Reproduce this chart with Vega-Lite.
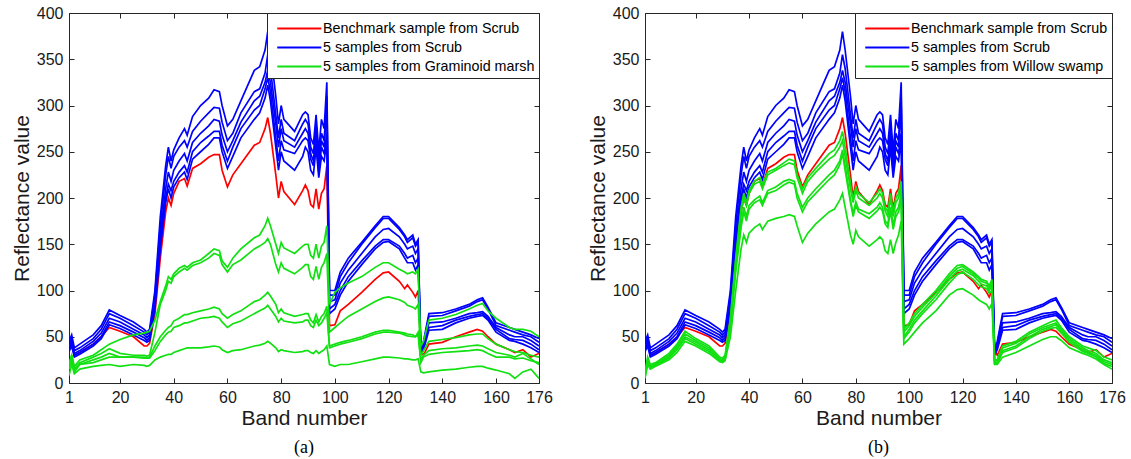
{
"$schema":"https://vega.github.io/schema/vega-lite/v6.json",
"background":"white",
"padding":{"left":10,"top":4,"right":15,"bottom":5},
"spacing":106,
"bounds":"flush",
"datasets":{
"m":[
{"s":"r","k":"Benchmark sample from Scrub","p":"both"},
{"s":"b1","k":"5 samples from Scrub","p":"both"},
{"s":"b2","k":"5 samples from Scrub","p":"both"},
{"s":"b3","k":"5 samples from Scrub","p":"both"},
{"s":"b4","k":"5 samples from Scrub","p":"both"},
{"s":"b5","k":"5 samples from Scrub","p":"both"},
{"s":"ga1","k":"5 samples from Graminoid marsh","p":"a"},
{"s":"ga2","k":"5 samples from Graminoid marsh","p":"a"},
{"s":"ga3","k":"5 samples from Graminoid marsh","p":"a"},
{"s":"ga4","k":"5 samples from Graminoid marsh","p":"a"},
{"s":"ga5","k":"5 samples from Graminoid marsh","p":"a"},
{"s":"gb1","k":"5 samples from Willow swamp","p":"b"},
{"s":"gb2","k":"5 samples from Willow swamp","p":"b"},
{"s":"gb3","k":"5 samples from Willow swamp","p":"b"},
{"s":"gb4","k":"5 samples from Willow swamp","p":"b"},
{"s":"gb5","k":"5 samples from Willow swamp","p":"b"}
],
"d":[
{"s":"r","b":1,"v":38},{"s":"r","b":2,"v":45},{"s":"r","b":3,"v":30},{"s":"r","b":5,"v":33},{"s":"r","b":10,"v":42},{"s":"r","b":13,"v":50},{"s":"r","b":16,"v":60},{"s":"r","b":20,"v":56},{"s":"r","b":25,"v":50},{"s":"r","b":29,"v":40},{"s":"r","b":30,"v":40},{"s":"r","b":31,"v":43},{"s":"r","b":33,"v":75},{"s":"r","b":35,"v":135},{"s":"r","b":37,"v":185},{"s":"r","b":38,"v":200},{"s":"r","b":39,"v":192},{"s":"r","b":40,"v":205},{"s":"r","b":42,"v":218},{"s":"r","b":44,"v":221},{"s":"r","b":45,"v":213},{"s":"r","b":47,"v":232},{"s":"r","b":50,"v":237},{"s":"r","b":53,"v":244},{"s":"r","b":55,"v":247},{"s":"r","b":57,"v":247},{"s":"r","b":58,"v":230},{"s":"r","b":60,"v":212},{"s":"r","b":62,"v":225},{"s":"r","b":65,"v":237},{"s":"r","b":70,"v":257},{"s":"r","b":72,"v":260},{"s":"r","b":74,"v":275},{"s":"r","b":75,"v":287},{"s":"r","b":76,"v":270},{"s":"r","b":78,"v":225},{"s":"r","b":79,"v":200},{"s":"r","b":80,"v":218},{"s":"r","b":81,"v":207},{"s":"r","b":85,"v":193},{"s":"r","b":88,"v":208},{"s":"r","b":89,"v":214},{"s":"r","b":90,"v":208},{"s":"r","b":91,"v":193},{"s":"r","b":92,"v":190},{"s":"r","b":93,"v":210},{"s":"r","b":94,"v":188},{"s":"r","b":95,"v":205},{"s":"r","b":96,"v":210},{"s":"r","b":97,"v":235},{"s":"r","b":98,"v":62},{"s":"r","b":100,"v":63},{"s":"r","b":102,"v":78},{"s":"r","b":105,"v":85},{"s":"r","b":110,"v":98},{"s":"r","b":115,"v":112},{"s":"r","b":118,"v":119},{"s":"r","b":120,"v":120},{"s":"r","b":124,"v":110},{"s":"r","b":126,"v":102},{"s":"r","b":127,"v":106},{"s":"r","b":129,"v":98},{"s":"r","b":130,"v":93},{"s":"r","b":131,"v":100},{"s":"r","b":132,"v":35},{"s":"r","b":133,"v":30},{"s":"r","b":135,"v":42},{"s":"r","b":140,"v":44},{"s":"r","b":145,"v":50},{"s":"r","b":150,"v":55},{"s":"r","b":153,"v":58},{"s":"r","b":155,"v":56},{"s":"r","b":157,"v":50},{"s":"r","b":160,"v":42},{"s":"r","b":165,"v":36},{"s":"r","b":167,"v":33},{"s":"r","b":170,"v":36},{"s":"r","b":173,"v":28},{"s":"r","b":176,"v":32},
{"s":"b1","b":1,"v":45},{"s":"b1","b":2,"v":52},{"s":"b1","b":3,"v":38},{"s":"b1","b":5,"v":42},{"s":"b1","b":10,"v":52},{"s":"b1","b":13,"v":62},{"s":"b1","b":16,"v":79},{"s":"b1","b":20,"v":73},{"s":"b1","b":25,"v":66},{"s":"b1","b":29,"v":58},{"s":"b1","b":30,"v":55},{"s":"b1","b":31,"v":58},{"s":"b1","b":33,"v":100},{"s":"b1","b":35,"v":180},{"s":"b1","b":37,"v":235},{"s":"b1","b":38,"v":255},{"s":"b1","b":39,"v":240},{"s":"b1","b":40,"v":252},{"s":"b1","b":42,"v":265},{"s":"b1","b":44,"v":275},{"s":"b1","b":45,"v":268},{"s":"b1","b":47,"v":288},{"s":"b1","b":50,"v":300},{"s":"b1","b":53,"v":308},{"s":"b1","b":55,"v":317},{"s":"b1","b":57,"v":315},{"s":"b1","b":58,"v":300},{"s":"b1","b":60,"v":278},{"s":"b1","b":62,"v":285},{"s":"b1","b":65,"v":305},{"s":"b1","b":70,"v":338},{"s":"b1","b":72,"v":342},{"s":"b1","b":74,"v":360},{"s":"b1","b":75,"v":380},{"s":"b1","b":76,"v":360},{"s":"b1","b":78,"v":310},{"s":"b1","b":79,"v":280},{"s":"b1","b":80,"v":300},{"s":"b1","b":81,"v":285},{"s":"b1","b":85,"v":272},{"s":"b1","b":88,"v":290},{"s":"b1","b":89,"v":293},{"s":"b1","b":90,"v":290},{"s":"b1","b":91,"v":265},{"s":"b1","b":92,"v":258},{"s":"b1","b":93,"v":290},{"s":"b1","b":94,"v":250},{"s":"b1","b":95,"v":285},{"s":"b1","b":96,"v":275},{"s":"b1","b":97,"v":325},{"s":"b1","b":98,"v":100},{"s":"b1","b":100,"v":100},{"s":"b1","b":102,"v":120},{"s":"b1","b":105,"v":135},{"s":"b1","b":110,"v":152},{"s":"b1","b":115,"v":170},{"s":"b1","b":118,"v":180},{"s":"b1","b":120,"v":180},{"s":"b1","b":124,"v":168},{"s":"b1","b":126,"v":160},{"s":"b1","b":127,"v":155},{"s":"b1","b":129,"v":160},{"s":"b1","b":130,"v":150},{"s":"b1","b":131,"v":155},{"s":"b1","b":132,"v":35},{"s":"b1","b":133,"v":45},{"s":"b1","b":135,"v":75},{"s":"b1","b":140,"v":76},{"s":"b1","b":145,"v":80},{"s":"b1","b":150,"v":85},{"s":"b1","b":153,"v":90},{"s":"b1","b":155,"v":92},{"s":"b1","b":157,"v":82},{"s":"b1","b":160,"v":65},{"s":"b1","b":165,"v":60},{"s":"b1","b":167,"v":58},{"s":"b1","b":170,"v":55},{"s":"b1","b":173,"v":52},{"s":"b1","b":176,"v":48},
{"s":"b2","b":1,"v":42},{"s":"b2","b":2,"v":48},{"s":"b2","b":3,"v":35},{"s":"b2","b":5,"v":38},{"s":"b2","b":10,"v":48},{"s":"b2","b":13,"v":58},{"s":"b2","b":16,"v":75},{"s":"b2","b":20,"v":70},{"s":"b2","b":25,"v":62},{"s":"b2","b":29,"v":55},{"s":"b2","b":30,"v":52},{"s":"b2","b":31,"v":55},{"s":"b2","b":33,"v":95},{"s":"b2","b":35,"v":170},{"s":"b2","b":37,"v":225},{"s":"b2","b":38,"v":245},{"s":"b2","b":39,"v":232},{"s":"b2","b":40,"v":245},{"s":"b2","b":42,"v":255},{"s":"b2","b":44,"v":262},{"s":"b2","b":45,"v":255},{"s":"b2","b":47,"v":272},{"s":"b2","b":50,"v":283},{"s":"b2","b":53,"v":292},{"s":"b2","b":55,"v":298},{"s":"b2","b":57,"v":297},{"s":"b2","b":58,"v":282},{"s":"b2","b":60,"v":262},{"s":"b2","b":62,"v":270},{"s":"b2","b":65,"v":292},{"s":"b2","b":70,"v":315},{"s":"b2","b":72,"v":318},{"s":"b2","b":74,"v":335},{"s":"b2","b":75,"v":355},{"s":"b2","b":76,"v":340},{"s":"b2","b":78,"v":290},{"s":"b2","b":79,"v":265},{"s":"b2","b":80,"v":285},{"s":"b2","b":81,"v":270},{"s":"b2","b":85,"v":262},{"s":"b2","b":88,"v":280},{"s":"b2","b":89,"v":285},{"s":"b2","b":90,"v":280},{"s":"b2","b":91,"v":255},{"s":"b2","b":92,"v":248},{"s":"b2","b":93,"v":280},{"s":"b2","b":94,"v":240},{"s":"b2","b":95,"v":270},{"s":"b2","b":96,"v":262},{"s":"b2","b":97,"v":310},{"s":"b2","b":98,"v":95},{"s":"b2","b":100,"v":95},{"s":"b2","b":102,"v":115},{"s":"b2","b":105,"v":130},{"s":"b2","b":110,"v":150},{"s":"b2","b":115,"v":168},{"s":"b2","b":118,"v":178},{"s":"b2","b":120,"v":178},{"s":"b2","b":124,"v":166},{"s":"b2","b":126,"v":158},{"s":"b2","b":127,"v":152},{"s":"b2","b":129,"v":157},{"s":"b2","b":130,"v":148},{"s":"b2","b":131,"v":152},{"s":"b2","b":132,"v":33},{"s":"b2","b":133,"v":42},{"s":"b2","b":135,"v":72},{"s":"b2","b":140,"v":73},{"s":"b2","b":145,"v":78},{"s":"b2","b":150,"v":83},{"s":"b2","b":153,"v":88},{"s":"b2","b":155,"v":90},{"s":"b2","b":157,"v":80},{"s":"b2","b":160,"v":62},{"s":"b2","b":165,"v":57},{"s":"b2","b":167,"v":55},{"s":"b2","b":170,"v":52},{"s":"b2","b":173,"v":50},{"s":"b2","b":176,"v":44},
{"s":"b3","b":1,"v":38},{"s":"b3","b":2,"v":45},{"s":"b3","b":3,"v":32},{"s":"b3","b":5,"v":35},{"s":"b3","b":10,"v":45},{"s":"b3","b":13,"v":54},{"s":"b3","b":16,"v":70},{"s":"b3","b":20,"v":66},{"s":"b3","b":25,"v":58},{"s":"b3","b":29,"v":52},{"s":"b3","b":30,"v":49},{"s":"b3","b":31,"v":52},{"s":"b3","b":33,"v":90},{"s":"b3","b":35,"v":160},{"s":"b3","b":37,"v":210},{"s":"b3","b":38,"v":228},{"s":"b3","b":39,"v":218},{"s":"b3","b":40,"v":230},{"s":"b3","b":42,"v":240},{"s":"b3","b":44,"v":248},{"s":"b3","b":45,"v":240},{"s":"b3","b":47,"v":260},{"s":"b3","b":50,"v":270},{"s":"b3","b":53,"v":278},{"s":"b3","b":55,"v":285},{"s":"b3","b":57,"v":283},{"s":"b3","b":58,"v":268},{"s":"b3","b":60,"v":250},{"s":"b3","b":62,"v":262},{"s":"b3","b":65,"v":282},{"s":"b3","b":70,"v":305},{"s":"b3","b":72,"v":310},{"s":"b3","b":74,"v":325},{"s":"b3","b":75,"v":338},{"s":"b3","b":76,"v":325},{"s":"b3","b":78,"v":280},{"s":"b3","b":79,"v":255},{"s":"b3","b":80,"v":275},{"s":"b3","b":81,"v":262},{"s":"b3","b":85,"v":255},{"s":"b3","b":88,"v":270},{"s":"b3","b":89,"v":275},{"s":"b3","b":90,"v":270},{"s":"b3","b":91,"v":248},{"s":"b3","b":92,"v":240},{"s":"b3","b":93,"v":270},{"s":"b3","b":94,"v":232},{"s":"b3","b":95,"v":262},{"s":"b3","b":96,"v":255},{"s":"b3","b":97,"v":300},{"s":"b3","b":98,"v":88},{"s":"b3","b":100,"v":90},{"s":"b3","b":102,"v":108},{"s":"b3","b":105,"v":122},{"s":"b3","b":110,"v":140},{"s":"b3","b":115,"v":158},{"s":"b3","b":118,"v":166},{"s":"b3","b":120,"v":167},{"s":"b3","b":124,"v":158},{"s":"b3","b":126,"v":150},{"s":"b3","b":127,"v":145},{"s":"b3","b":129,"v":148},{"s":"b3","b":130,"v":140},{"s":"b3","b":131,"v":145},{"s":"b3","b":132,"v":32},{"s":"b3","b":133,"v":40},{"s":"b3","b":135,"v":65},{"s":"b3","b":140,"v":66},{"s":"b3","b":145,"v":70},{"s":"b3","b":150,"v":75},{"s":"b3","b":153,"v":76},{"s":"b3","b":155,"v":77},{"s":"b3","b":157,"v":72},{"s":"b3","b":160,"v":60},{"s":"b3","b":165,"v":52},{"s":"b3","b":167,"v":50},{"s":"b3","b":170,"v":50},{"s":"b3","b":173,"v":46},{"s":"b3","b":176,"v":40},
{"s":"b4","b":1,"v":36},{"s":"b4","b":2,"v":43},{"s":"b4","b":3,"v":30},{"s":"b4","b":5,"v":33},{"s":"b4","b":10,"v":42},{"s":"b4","b":13,"v":50},{"s":"b4","b":16,"v":66},{"s":"b4","b":20,"v":62},{"s":"b4","b":25,"v":55},{"s":"b4","b":29,"v":49},{"s":"b4","b":30,"v":46},{"s":"b4","b":31,"v":49},{"s":"b4","b":33,"v":85},{"s":"b4","b":35,"v":150},{"s":"b4","b":37,"v":200},{"s":"b4","b":38,"v":215},{"s":"b4","b":39,"v":208},{"s":"b4","b":40,"v":218},{"s":"b4","b":42,"v":228},{"s":"b4","b":44,"v":235},{"s":"b4","b":45,"v":228},{"s":"b4","b":47,"v":250},{"s":"b4","b":50,"v":260},{"s":"b4","b":53,"v":267},{"s":"b4","b":55,"v":272},{"s":"b4","b":57,"v":272},{"s":"b4","b":58,"v":257},{"s":"b4","b":60,"v":240},{"s":"b4","b":62,"v":255},{"s":"b4","b":65,"v":275},{"s":"b4","b":70,"v":295},{"s":"b4","b":72,"v":300},{"s":"b4","b":74,"v":318},{"s":"b4","b":75,"v":330},{"s":"b4","b":76,"v":315},{"s":"b4","b":78,"v":265},{"s":"b4","b":79,"v":240},{"s":"b4","b":80,"v":262},{"s":"b4","b":81,"v":252},{"s":"b4","b":85,"v":248},{"s":"b4","b":88,"v":262},{"s":"b4","b":89,"v":265},{"s":"b4","b":90,"v":262},{"s":"b4","b":91,"v":242},{"s":"b4","b":92,"v":235},{"s":"b4","b":93,"v":262},{"s":"b4","b":94,"v":228},{"s":"b4","b":95,"v":255},{"s":"b4","b":96,"v":248},{"s":"b4","b":97,"v":270},{"s":"b4","b":98,"v":80},{"s":"b4","b":100,"v":85},{"s":"b4","b":102,"v":100},{"s":"b4","b":105,"v":115},{"s":"b4","b":110,"v":132},{"s":"b4","b":115,"v":148},{"s":"b4","b":118,"v":155},{"s":"b4","b":120,"v":155},{"s":"b4","b":124,"v":148},{"s":"b4","b":126,"v":140},{"s":"b4","b":127,"v":135},{"s":"b4","b":129,"v":138},{"s":"b4","b":130,"v":130},{"s":"b4","b":131,"v":135},{"s":"b4","b":132,"v":31},{"s":"b4","b":133,"v":38},{"s":"b4","b":135,"v":60},{"s":"b4","b":140,"v":62},{"s":"b4","b":145,"v":68},{"s":"b4","b":150,"v":72},{"s":"b4","b":153,"v":74},{"s":"b4","b":155,"v":75},{"s":"b4","b":157,"v":70},{"s":"b4","b":160,"v":58},{"s":"b4","b":165,"v":48},{"s":"b4","b":167,"v":47},{"s":"b4","b":170,"v":46},{"s":"b4","b":173,"v":42},{"s":"b4","b":176,"v":36},
{"s":"b5","b":1,"v":34},{"s":"b5","b":2,"v":40},{"s":"b5","b":3,"v":28},{"s":"b5","b":5,"v":31},{"s":"b5","b":10,"v":40},{"s":"b5","b":13,"v":48},{"s":"b5","b":16,"v":63},{"s":"b5","b":20,"v":59},{"s":"b5","b":25,"v":52},{"s":"b5","b":29,"v":46},{"s":"b5","b":30,"v":44},{"s":"b5","b":31,"v":46},{"s":"b5","b":33,"v":80},{"s":"b5","b":35,"v":145},{"s":"b5","b":37,"v":195},{"s":"b5","b":38,"v":210},{"s":"b5","b":39,"v":200},{"s":"b5","b":40,"v":212},{"s":"b5","b":42,"v":222},{"s":"b5","b":44,"v":228},{"s":"b5","b":45,"v":220},{"s":"b5","b":47,"v":242},{"s":"b5","b":50,"v":250},{"s":"b5","b":53,"v":258},{"s":"b5","b":55,"v":265},{"s":"b5","b":57,"v":265},{"s":"b5","b":58,"v":250},{"s":"b5","b":60,"v":232},{"s":"b5","b":62,"v":245},{"s":"b5","b":65,"v":265},{"s":"b5","b":70,"v":285},{"s":"b5","b":72,"v":292},{"s":"b5","b":74,"v":308},{"s":"b5","b":75,"v":322},{"s":"b5","b":76,"v":305},{"s":"b5","b":78,"v":255},{"s":"b5","b":79,"v":230},{"s":"b5","b":80,"v":250},{"s":"b5","b":81,"v":240},{"s":"b5","b":85,"v":230},{"s":"b5","b":88,"v":245},{"s":"b5","b":89,"v":255},{"s":"b5","b":90,"v":250},{"s":"b5","b":91,"v":230},{"s":"b5","b":92,"v":225},{"s":"b5","b":93,"v":255},{"s":"b5","b":94,"v":222},{"s":"b5","b":95,"v":245},{"s":"b5","b":96,"v":240},{"s":"b5","b":97,"v":262},{"s":"b5","b":98,"v":75},{"s":"b5","b":100,"v":80},{"s":"b5","b":102,"v":95},{"s":"b5","b":105,"v":110},{"s":"b5","b":110,"v":128},{"s":"b5","b":115,"v":145},{"s":"b5","b":118,"v":152},{"s":"b5","b":120,"v":153},{"s":"b5","b":124,"v":145},{"s":"b5","b":126,"v":135},{"s":"b5","b":127,"v":130},{"s":"b5","b":129,"v":130},{"s":"b5","b":130,"v":122},{"s":"b5","b":131,"v":128},{"s":"b5","b":132,"v":30},{"s":"b5","b":133,"v":36},{"s":"b5","b":135,"v":57},{"s":"b5","b":140,"v":58},{"s":"b5","b":145,"v":65},{"s":"b5","b":150,"v":70},{"s":"b5","b":153,"v":72},{"s":"b5","b":155,"v":73},{"s":"b5","b":157,"v":68},{"s":"b5","b":160,"v":55},{"s":"b5","b":165,"v":46},{"s":"b5","b":167,"v":45},{"s":"b5","b":170,"v":42},{"s":"b5","b":173,"v":38},{"s":"b5","b":176,"v":33},
{"s":"ga1","b":1,"v":20},{"s":"ga1","b":2,"v":30},{"s":"ga1","b":3,"v":18},{"s":"ga1","b":5,"v":25},{"s":"ga1","b":10,"v":30},{"s":"ga1","b":13,"v":36},{"s":"ga1","b":16,"v":42},{"s":"ga1","b":20,"v":47},{"s":"ga1","b":25,"v":52},{"s":"ga1","b":29,"v":54},{"s":"ga1","b":30,"v":55},{"s":"ga1","b":31,"v":56},{"s":"ga1","b":33,"v":68},{"s":"ga1","b":35,"v":88},{"s":"ga1","b":37,"v":105},{"s":"ga1","b":38,"v":115},{"s":"ga1","b":39,"v":112},{"s":"ga1","b":40,"v":118},{"s":"ga1","b":42,"v":124},{"s":"ga1","b":44,"v":127},{"s":"ga1","b":45,"v":125},{"s":"ga1","b":47,"v":130},{"s":"ga1","b":50,"v":133},{"s":"ga1","b":53,"v":140},{"s":"ga1","b":55,"v":145},{"s":"ga1","b":57,"v":143},{"s":"ga1","b":58,"v":132},{"s":"ga1","b":60,"v":125},{"s":"ga1","b":62,"v":135},{"s":"ga1","b":65,"v":145},{"s":"ga1","b":70,"v":157},{"s":"ga1","b":72,"v":160},{"s":"ga1","b":74,"v":170},{"s":"ga1","b":75,"v":178},{"s":"ga1","b":76,"v":170},{"s":"ga1","b":78,"v":150},{"s":"ga1","b":79,"v":140},{"s":"ga1","b":80,"v":152},{"s":"ga1","b":81,"v":146},{"s":"ga1","b":85,"v":140},{"s":"ga1","b":88,"v":148},{"s":"ga1","b":89,"v":150},{"s":"ga1","b":90,"v":150},{"s":"ga1","b":91,"v":138},{"s":"ga1","b":92,"v":135},{"s":"ga1","b":93,"v":150},{"s":"ga1","b":94,"v":135},{"s":"ga1","b":95,"v":148},{"s":"ga1","b":96,"v":152},{"s":"ga1","b":97,"v":170},{"s":"ga1","b":98,"v":85},{"s":"ga1","b":100,"v":98},{"s":"ga1","b":102,"v":103},{"s":"ga1","b":105,"v":108},{"s":"ga1","b":110,"v":115},{"s":"ga1","b":115,"v":125},{"s":"ga1","b":118,"v":130},{"s":"ga1","b":120,"v":130},{"s":"ga1","b":124,"v":123},{"s":"ga1","b":126,"v":120},{"s":"ga1","b":127,"v":118},{"s":"ga1","b":129,"v":120},{"s":"ga1","b":130,"v":118},{"s":"ga1","b":131,"v":123},{"s":"ga1","b":132,"v":40},{"s":"ga1","b":133,"v":45},{"s":"ga1","b":135,"v":68},{"s":"ga1","b":140,"v":70},{"s":"ga1","b":145,"v":74},{"s":"ga1","b":150,"v":80},{"s":"ga1","b":153,"v":84},{"s":"ga1","b":155,"v":86},{"s":"ga1","b":157,"v":78},{"s":"ga1","b":160,"v":70},{"s":"ga1","b":165,"v":60},{"s":"ga1","b":167,"v":58},{"s":"ga1","b":170,"v":58},{"s":"ga1","b":173,"v":56},{"s":"ga1","b":176,"v":50},
{"s":"ga2","b":1,"v":20},{"s":"ga2","b":2,"v":30},{"s":"ga2","b":3,"v":15},{"s":"ga2","b":5,"v":22},{"s":"ga2","b":10,"v":28},{"s":"ga2","b":13,"v":32},{"s":"ga2","b":16,"v":37},{"s":"ga2","b":20,"v":32},{"s":"ga2","b":25,"v":30},{"s":"ga2","b":29,"v":30},{"s":"ga2","b":30,"v":29},{"s":"ga2","b":31,"v":30},{"s":"ga2","b":33,"v":55},{"s":"ga2","b":35,"v":85},{"s":"ga2","b":37,"v":100},{"s":"ga2","b":38,"v":110},{"s":"ga2","b":39,"v":108},{"s":"ga2","b":40,"v":115},{"s":"ga2","b":42,"v":120},{"s":"ga2","b":44,"v":124},{"s":"ga2","b":45,"v":122},{"s":"ga2","b":47,"v":127},{"s":"ga2","b":50,"v":130},{"s":"ga2","b":53,"v":135},{"s":"ga2","b":55,"v":140},{"s":"ga2","b":57,"v":138},{"s":"ga2","b":58,"v":128},{"s":"ga2","b":60,"v":120},{"s":"ga2","b":62,"v":128},{"s":"ga2","b":65,"v":133},{"s":"ga2","b":70,"v":145},{"s":"ga2","b":72,"v":148},{"s":"ga2","b":74,"v":152},{"s":"ga2","b":75,"v":156},{"s":"ga2","b":76,"v":150},{"s":"ga2","b":78,"v":128},{"s":"ga2","b":79,"v":120},{"s":"ga2","b":80,"v":130},{"s":"ga2","b":81,"v":124},{"s":"ga2","b":85,"v":118},{"s":"ga2","b":88,"v":125},{"s":"ga2","b":89,"v":128},{"s":"ga2","b":90,"v":128},{"s":"ga2","b":91,"v":115},{"s":"ga2","b":92,"v":112},{"s":"ga2","b":93,"v":126},{"s":"ga2","b":94,"v":112},{"s":"ga2","b":95,"v":125},{"s":"ga2","b":96,"v":130},{"s":"ga2","b":97,"v":140},{"s":"ga2","b":98,"v":55},{"s":"ga2","b":100,"v":60},{"s":"ga2","b":102,"v":65},{"s":"ga2","b":105,"v":72},{"s":"ga2","b":110,"v":80},{"s":"ga2","b":115,"v":88},{"s":"ga2","b":118,"v":92},{"s":"ga2","b":120,"v":93},{"s":"ga2","b":124,"v":90},{"s":"ga2","b":126,"v":87},{"s":"ga2","b":127,"v":84},{"s":"ga2","b":129,"v":82},{"s":"ga2","b":130,"v":80},{"s":"ga2","b":131,"v":85},{"s":"ga2","b":132,"v":30},{"s":"ga2","b":133,"v":35},{"s":"ga2","b":135,"v":45},{"s":"ga2","b":140,"v":47},{"s":"ga2","b":145,"v":49},{"s":"ga2","b":150,"v":52},{"s":"ga2","b":153,"v":53},{"s":"ga2","b":155,"v":53},{"s":"ga2","b":157,"v":48},{"s":"ga2","b":160,"v":42},{"s":"ga2","b":165,"v":36},{"s":"ga2","b":167,"v":34},{"s":"ga2","b":170,"v":33},{"s":"ga2","b":173,"v":30},{"s":"ga2","b":176,"v":28},
{"s":"ga3","b":1,"v":20},{"s":"ga3","b":2,"v":28},{"s":"ga3","b":3,"v":15},{"s":"ga3","b":5,"v":20},{"s":"ga3","b":10,"v":25},{"s":"ga3","b":13,"v":28},{"s":"ga3","b":16,"v":32},{"s":"ga3","b":20,"v":28},{"s":"ga3","b":25,"v":28},{"s":"ga3","b":29,"v":28},{"s":"ga3","b":30,"v":27},{"s":"ga3","b":31,"v":28},{"s":"ga3","b":33,"v":40},{"s":"ga3","b":35,"v":50},{"s":"ga3","b":37,"v":57},{"s":"ga3","b":38,"v":60},{"s":"ga3","b":39,"v":62},{"s":"ga3","b":40,"v":67},{"s":"ga3","b":42,"v":70},{"s":"ga3","b":44,"v":74},{"s":"ga3","b":45,"v":74},{"s":"ga3","b":47,"v":76},{"s":"ga3","b":50,"v":78},{"s":"ga3","b":53,"v":80},{"s":"ga3","b":55,"v":82},{"s":"ga3","b":57,"v":80},{"s":"ga3","b":58,"v":75},{"s":"ga3","b":60,"v":70},{"s":"ga3","b":62,"v":74},{"s":"ga3","b":65,"v":78},{"s":"ga3","b":70,"v":88},{"s":"ga3","b":72,"v":90},{"s":"ga3","b":74,"v":95},{"s":"ga3","b":75,"v":98},{"s":"ga3","b":76,"v":94},{"s":"ga3","b":78,"v":85},{"s":"ga3","b":79,"v":76},{"s":"ga3","b":80,"v":80},{"s":"ga3","b":81,"v":76},{"s":"ga3","b":85,"v":72},{"s":"ga3","b":88,"v":74},{"s":"ga3","b":89,"v":75},{"s":"ga3","b":90,"v":75},{"s":"ga3","b":91,"v":68},{"s":"ga3","b":92,"v":65},{"s":"ga3","b":93,"v":74},{"s":"ga3","b":94,"v":66},{"s":"ga3","b":95,"v":72},{"s":"ga3","b":96,"v":75},{"s":"ga3","b":97,"v":83},{"s":"ga3","b":98,"v":40},{"s":"ga3","b":100,"v":42},{"s":"ga3","b":102,"v":44},{"s":"ga3","b":105,"v":46},{"s":"ga3","b":110,"v":50},{"s":"ga3","b":115,"v":55},{"s":"ga3","b":118,"v":57},{"s":"ga3","b":120,"v":57},{"s":"ga3","b":124,"v":55},{"s":"ga3","b":126,"v":54},{"s":"ga3","b":127,"v":53},{"s":"ga3","b":129,"v":52},{"s":"ga3","b":130,"v":50},{"s":"ga3","b":131,"v":55},{"s":"ga3","b":132,"v":25},{"s":"ga3","b":133,"v":30},{"s":"ga3","b":135,"v":35},{"s":"ga3","b":140,"v":37},{"s":"ga3","b":145,"v":38},{"s":"ga3","b":150,"v":40},{"s":"ga3","b":153,"v":41},{"s":"ga3","b":155,"v":40},{"s":"ga3","b":157,"v":37},{"s":"ga3","b":160,"v":33},{"s":"ga3","b":165,"v":30},{"s":"ga3","b":167,"v":28},{"s":"ga3","b":170,"v":32},{"s":"ga3","b":173,"v":26},{"s":"ga3","b":176,"v":20},
{"s":"ga4","b":1,"v":15},{"s":"ga4","b":2,"v":25},{"s":"ga4","b":3,"v":12},{"s":"ga4","b":5,"v":20},{"s":"ga4","b":10,"v":22},{"s":"ga4","b":13,"v":25},{"s":"ga4","b":16,"v":28},{"s":"ga4","b":20,"v":28},{"s":"ga4","b":25,"v":28},{"s":"ga4","b":29,"v":27},{"s":"ga4","b":30,"v":27},{"s":"ga4","b":31,"v":27},{"s":"ga4","b":33,"v":35},{"s":"ga4","b":35,"v":45},{"s":"ga4","b":37,"v":52},{"s":"ga4","b":38,"v":55},{"s":"ga4","b":39,"v":56},{"s":"ga4","b":40,"v":60},{"s":"ga4","b":42,"v":62},{"s":"ga4","b":44,"v":65},{"s":"ga4","b":45,"v":65},{"s":"ga4","b":47,"v":67},{"s":"ga4","b":50,"v":70},{"s":"ga4","b":53,"v":71},{"s":"ga4","b":55,"v":72},{"s":"ga4","b":57,"v":70},{"s":"ga4","b":58,"v":66},{"s":"ga4","b":60,"v":60},{"s":"ga4","b":62,"v":64},{"s":"ga4","b":65,"v":67},{"s":"ga4","b":70,"v":75},{"s":"ga4","b":72,"v":78},{"s":"ga4","b":74,"v":81},{"s":"ga4","b":75,"v":84},{"s":"ga4","b":76,"v":80},{"s":"ga4","b":78,"v":72},{"s":"ga4","b":79,"v":66},{"s":"ga4","b":80,"v":70},{"s":"ga4","b":81,"v":67},{"s":"ga4","b":85,"v":65},{"s":"ga4","b":88,"v":66},{"s":"ga4","b":89,"v":68},{"s":"ga4","b":90,"v":68},{"s":"ga4","b":91,"v":62},{"s":"ga4","b":92,"v":60},{"s":"ga4","b":93,"v":68},{"s":"ga4","b":94,"v":62},{"s":"ga4","b":95,"v":65},{"s":"ga4","b":96,"v":70},{"s":"ga4","b":97,"v":76},{"s":"ga4","b":98,"v":38},{"s":"ga4","b":100,"v":40},{"s":"ga4","b":102,"v":42},{"s":"ga4","b":105,"v":44},{"s":"ga4","b":110,"v":48},{"s":"ga4","b":115,"v":53},{"s":"ga4","b":118,"v":55},{"s":"ga4","b":120,"v":55},{"s":"ga4","b":124,"v":54},{"s":"ga4","b":126,"v":52},{"s":"ga4","b":127,"v":51},{"s":"ga4","b":129,"v":50},{"s":"ga4","b":130,"v":50},{"s":"ga4","b":131,"v":52},{"s":"ga4","b":132,"v":22},{"s":"ga4","b":133,"v":28},{"s":"ga4","b":135,"v":31},{"s":"ga4","b":140,"v":33},{"s":"ga4","b":145,"v":34},{"s":"ga4","b":150,"v":35},{"s":"ga4","b":153,"v":36},{"s":"ga4","b":155,"v":35},{"s":"ga4","b":157,"v":32},{"s":"ga4","b":160,"v":28},{"s":"ga4","b":165,"v":28},{"s":"ga4","b":167,"v":26},{"s":"ga4","b":170,"v":27},{"s":"ga4","b":173,"v":24},{"s":"ga4","b":176,"v":22},
{"s":"ga5","b":1,"v":8},{"s":"ga5","b":2,"v":20},{"s":"ga5","b":3,"v":10},{"s":"ga5","b":5,"v":15},{"s":"ga5","b":10,"v":18},{"s":"ga5","b":13,"v":19},{"s":"ga5","b":16,"v":20},{"s":"ga5","b":20,"v":18},{"s":"ga5","b":25,"v":20},{"s":"ga5","b":29,"v":19},{"s":"ga5","b":30,"v":18},{"s":"ga5","b":31,"v":19},{"s":"ga5","b":33,"v":25},{"s":"ga5","b":35,"v":28},{"s":"ga5","b":37,"v":30},{"s":"ga5","b":38,"v":31},{"s":"ga5","b":39,"v":31},{"s":"ga5","b":40,"v":33},{"s":"ga5","b":42,"v":35},{"s":"ga5","b":44,"v":37},{"s":"ga5","b":45,"v":38},{"s":"ga5","b":47,"v":38},{"s":"ga5","b":50,"v":38},{"s":"ga5","b":53,"v":39},{"s":"ga5","b":55,"v":40},{"s":"ga5","b":57,"v":39},{"s":"ga5","b":58,"v":36},{"s":"ga5","b":60,"v":33},{"s":"ga5","b":62,"v":35},{"s":"ga5","b":65,"v":36},{"s":"ga5","b":70,"v":40},{"s":"ga5","b":72,"v":41},{"s":"ga5","b":74,"v":43},{"s":"ga5","b":75,"v":45},{"s":"ga5","b":76,"v":43},{"s":"ga5","b":78,"v":38},{"s":"ga5","b":79,"v":34},{"s":"ga5","b":80,"v":36},{"s":"ga5","b":81,"v":35},{"s":"ga5","b":85,"v":33},{"s":"ga5","b":88,"v":34},{"s":"ga5","b":89,"v":35},{"s":"ga5","b":90,"v":35},{"s":"ga5","b":91,"v":33},{"s":"ga5","b":92,"v":32},{"s":"ga5","b":93,"v":35},{"s":"ga5","b":94,"v":32},{"s":"ga5","b":95,"v":34},{"s":"ga5","b":96,"v":36},{"s":"ga5","b":97,"v":40},{"s":"ga5","b":98,"v":20},{"s":"ga5","b":100,"v":18},{"s":"ga5","b":102,"v":20},{"s":"ga5","b":105,"v":20},{"s":"ga5","b":110,"v":23},{"s":"ga5","b":115,"v":26},{"s":"ga5","b":118,"v":28},{"s":"ga5","b":120,"v":28},{"s":"ga5","b":124,"v":27},{"s":"ga5","b":126,"v":26},{"s":"ga5","b":127,"v":26},{"s":"ga5","b":129,"v":25},{"s":"ga5","b":130,"v":25},{"s":"ga5","b":131,"v":26},{"s":"ga5","b":132,"v":12},{"s":"ga5","b":133,"v":11},{"s":"ga5","b":135,"v":12},{"s":"ga5","b":140,"v":14},{"s":"ga5","b":145,"v":15},{"s":"ga5","b":150,"v":17},{"s":"ga5","b":153,"v":18},{"s":"ga5","b":155,"v":18},{"s":"ga5","b":157,"v":16},{"s":"ga5","b":160,"v":14},{"s":"ga5","b":165,"v":10},{"s":"ga5","b":167,"v":5},{"s":"ga5","b":170,"v":12},{"s":"ga5","b":173,"v":15},{"s":"ga5","b":176,"v":5},
{"s":"gb1","b":1,"v":12},{"s":"gb1","b":2,"v":28},{"s":"gb1","b":3,"v":20},{"s":"gb1","b":5,"v":22},{"s":"gb1","b":10,"v":32},{"s":"gb1","b":13,"v":42},{"s":"gb1","b":16,"v":56},{"s":"gb1","b":20,"v":48},{"s":"gb1","b":25,"v":40},{"s":"gb1","b":29,"v":28},{"s":"gb1","b":30,"v":27},{"s":"gb1","b":31,"v":30},{"s":"gb1","b":33,"v":70},{"s":"gb1","b":35,"v":135},{"s":"gb1","b":37,"v":190},{"s":"gb1","b":38,"v":205},{"s":"gb1","b":39,"v":195},{"s":"gb1","b":40,"v":208},{"s":"gb1","b":42,"v":218},{"s":"gb1","b":44,"v":222},{"s":"gb1","b":45,"v":215},{"s":"gb1","b":47,"v":228},{"s":"gb1","b":50,"v":232},{"s":"gb1","b":53,"v":238},{"s":"gb1","b":55,"v":242},{"s":"gb1","b":57,"v":240},{"s":"gb1","b":58,"v":225},{"s":"gb1","b":60,"v":210},{"s":"gb1","b":62,"v":222},{"s":"gb1","b":65,"v":232},{"s":"gb1","b":70,"v":248},{"s":"gb1","b":72,"v":252},{"s":"gb1","b":74,"v":262},{"s":"gb1","b":75,"v":272},{"s":"gb1","b":76,"v":255},{"s":"gb1","b":78,"v":215},{"s":"gb1","b":79,"v":198},{"s":"gb1","b":80,"v":212},{"s":"gb1","b":81,"v":205},{"s":"gb1","b":85,"v":195},{"s":"gb1","b":88,"v":205},{"s":"gb1","b":89,"v":210},{"s":"gb1","b":90,"v":205},{"s":"gb1","b":91,"v":190},{"s":"gb1","b":92,"v":185},{"s":"gb1","b":93,"v":205},{"s":"gb1","b":94,"v":185},{"s":"gb1","b":95,"v":200},{"s":"gb1","b":96,"v":205},{"s":"gb1","b":97,"v":218},{"s":"gb1","b":98,"v":58},{"s":"gb1","b":100,"v":65},{"s":"gb1","b":102,"v":75},{"s":"gb1","b":105,"v":85},{"s":"gb1","b":110,"v":100},{"s":"gb1","b":115,"v":118},{"s":"gb1","b":118,"v":127},{"s":"gb1","b":120,"v":128},{"s":"gb1","b":124,"v":120},{"s":"gb1","b":126,"v":115},{"s":"gb1","b":127,"v":112},{"s":"gb1","b":129,"v":110},{"s":"gb1","b":130,"v":105},{"s":"gb1","b":131,"v":112},{"s":"gb1","b":132,"v":25},{"s":"gb1","b":133,"v":25},{"s":"gb1","b":135,"v":40},{"s":"gb1","b":140,"v":45},{"s":"gb1","b":145,"v":55},{"s":"gb1","b":150,"v":62},{"s":"gb1","b":153,"v":66},{"s":"gb1","b":155,"v":68},{"s":"gb1","b":157,"v":60},{"s":"gb1","b":160,"v":50},{"s":"gb1","b":165,"v":40},{"s":"gb1","b":167,"v":38},{"s":"gb1","b":170,"v":35},{"s":"gb1","b":173,"v":28},{"s":"gb1","b":176,"v":25},
{"s":"gb2","b":1,"v":10},{"s":"gb2","b":2,"v":26},{"s":"gb2","b":3,"v":18},{"s":"gb2","b":5,"v":21},{"s":"gb2","b":10,"v":30},{"s":"gb2","b":13,"v":40},{"s":"gb2","b":16,"v":53},{"s":"gb2","b":20,"v":46},{"s":"gb2","b":25,"v":38},{"s":"gb2","b":29,"v":27},{"s":"gb2","b":30,"v":25},{"s":"gb2","b":31,"v":28},{"s":"gb2","b":33,"v":68},{"s":"gb2","b":35,"v":132},{"s":"gb2","b":37,"v":185},{"s":"gb2","b":38,"v":200},{"s":"gb2","b":39,"v":192},{"s":"gb2","b":40,"v":205},{"s":"gb2","b":42,"v":215},{"s":"gb2","b":44,"v":218},{"s":"gb2","b":45,"v":210},{"s":"gb2","b":47,"v":225},{"s":"gb2","b":50,"v":230},{"s":"gb2","b":53,"v":235},{"s":"gb2","b":55,"v":238},{"s":"gb2","b":57,"v":236},{"s":"gb2","b":58,"v":222},{"s":"gb2","b":60,"v":205},{"s":"gb2","b":62,"v":218},{"s":"gb2","b":65,"v":228},{"s":"gb2","b":70,"v":242},{"s":"gb2","b":72,"v":246},{"s":"gb2","b":74,"v":255},{"s":"gb2","b":75,"v":262},{"s":"gb2","b":76,"v":245},{"s":"gb2","b":78,"v":210},{"s":"gb2","b":79,"v":195},{"s":"gb2","b":80,"v":208},{"s":"gb2","b":81,"v":200},{"s":"gb2","b":85,"v":192},{"s":"gb2","b":88,"v":200},{"s":"gb2","b":89,"v":205},{"s":"gb2","b":90,"v":200},{"s":"gb2","b":91,"v":186},{"s":"gb2","b":92,"v":180},{"s":"gb2","b":93,"v":200},{"s":"gb2","b":94,"v":180},{"s":"gb2","b":95,"v":195},{"s":"gb2","b":96,"v":200},{"s":"gb2","b":97,"v":212},{"s":"gb2","b":98,"v":55},{"s":"gb2","b":100,"v":62},{"s":"gb2","b":102,"v":72},{"s":"gb2","b":105,"v":82},{"s":"gb2","b":110,"v":97},{"s":"gb2","b":115,"v":115},{"s":"gb2","b":118,"v":124},{"s":"gb2","b":120,"v":126},{"s":"gb2","b":124,"v":118},{"s":"gb2","b":126,"v":113},{"s":"gb2","b":127,"v":110},{"s":"gb2","b":129,"v":108},{"s":"gb2","b":130,"v":103},{"s":"gb2","b":131,"v":108},{"s":"gb2","b":132,"v":24},{"s":"gb2","b":133,"v":24},{"s":"gb2","b":135,"v":38},{"s":"gb2","b":140,"v":43},{"s":"gb2","b":145,"v":53},{"s":"gb2","b":150,"v":60},{"s":"gb2","b":153,"v":63},{"s":"gb2","b":155,"v":65},{"s":"gb2","b":157,"v":58},{"s":"gb2","b":160,"v":48},{"s":"gb2","b":165,"v":38},{"s":"gb2","b":167,"v":35},{"s":"gb2","b":170,"v":32},{"s":"gb2","b":173,"v":25},{"s":"gb2","b":176,"v":22},
{"s":"gb3","b":1,"v":8},{"s":"gb3","b":2,"v":24},{"s":"gb3","b":3,"v":17},{"s":"gb3","b":5,"v":20},{"s":"gb3","b":10,"v":28},{"s":"gb3","b":13,"v":38},{"s":"gb3","b":16,"v":50},{"s":"gb3","b":20,"v":44},{"s":"gb3","b":25,"v":36},{"s":"gb3","b":29,"v":25},{"s":"gb3","b":30,"v":24},{"s":"gb3","b":31,"v":26},{"s":"gb3","b":33,"v":62},{"s":"gb3","b":35,"v":125},{"s":"gb3","b":37,"v":172},{"s":"gb3","b":38,"v":190},{"s":"gb3","b":39,"v":180},{"s":"gb3","b":40,"v":192},{"s":"gb3","b":42,"v":198},{"s":"gb3","b":44,"v":202},{"s":"gb3","b":45,"v":195},{"s":"gb3","b":47,"v":208},{"s":"gb3","b":50,"v":212},{"s":"gb3","b":53,"v":218},{"s":"gb3","b":55,"v":220},{"s":"gb3","b":57,"v":218},{"s":"gb3","b":58,"v":205},{"s":"gb3","b":60,"v":190},{"s":"gb3","b":62,"v":200},{"s":"gb3","b":65,"v":210},{"s":"gb3","b":70,"v":225},{"s":"gb3","b":72,"v":230},{"s":"gb3","b":74,"v":240},{"s":"gb3","b":75,"v":252},{"s":"gb3","b":76,"v":235},{"s":"gb3","b":78,"v":198},{"s":"gb3","b":79,"v":183},{"s":"gb3","b":80,"v":196},{"s":"gb3","b":81,"v":188},{"s":"gb3","b":85,"v":183},{"s":"gb3","b":88,"v":190},{"s":"gb3","b":89,"v":195},{"s":"gb3","b":90,"v":190},{"s":"gb3","b":91,"v":175},{"s":"gb3","b":92,"v":172},{"s":"gb3","b":93,"v":190},{"s":"gb3","b":94,"v":170},{"s":"gb3","b":95,"v":185},{"s":"gb3","b":96,"v":190},{"s":"gb3","b":97,"v":205},{"s":"gb3","b":98,"v":50},{"s":"gb3","b":100,"v":58},{"s":"gb3","b":102,"v":68},{"s":"gb3","b":105,"v":78},{"s":"gb3","b":110,"v":94},{"s":"gb3","b":115,"v":112},{"s":"gb3","b":118,"v":121},{"s":"gb3","b":120,"v":123},{"s":"gb3","b":124,"v":116},{"s":"gb3","b":126,"v":110},{"s":"gb3","b":127,"v":107},{"s":"gb3","b":129,"v":105},{"s":"gb3","b":130,"v":100},{"s":"gb3","b":131,"v":105},{"s":"gb3","b":132,"v":22},{"s":"gb3","b":133,"v":22},{"s":"gb3","b":135,"v":35},{"s":"gb3","b":140,"v":40},{"s":"gb3","b":145,"v":50},{"s":"gb3","b":150,"v":58},{"s":"gb3","b":153,"v":61},{"s":"gb3","b":155,"v":63},{"s":"gb3","b":157,"v":56},{"s":"gb3","b":160,"v":46},{"s":"gb3","b":165,"v":36},{"s":"gb3","b":167,"v":33},{"s":"gb3","b":170,"v":30},{"s":"gb3","b":173,"v":23},{"s":"gb3","b":176,"v":20},
{"s":"gb4","b":1,"v":7},{"s":"gb4","b":2,"v":22},{"s":"gb4","b":3,"v":16},{"s":"gb4","b":5,"v":19},{"s":"gb4","b":10,"v":27},{"s":"gb4","b":13,"v":36},{"s":"gb4","b":16,"v":48},{"s":"gb4","b":20,"v":42},{"s":"gb4","b":25,"v":34},{"s":"gb4","b":29,"v":24},{"s":"gb4","b":30,"v":23},{"s":"gb4","b":31,"v":25},{"s":"gb4","b":33,"v":60},{"s":"gb4","b":35,"v":120},{"s":"gb4","b":37,"v":168},{"s":"gb4","b":38,"v":185},{"s":"gb4","b":39,"v":175},{"s":"gb4","b":40,"v":188},{"s":"gb4","b":42,"v":195},{"s":"gb4","b":44,"v":198},{"s":"gb4","b":45,"v":192},{"s":"gb4","b":47,"v":205},{"s":"gb4","b":50,"v":208},{"s":"gb4","b":53,"v":214},{"s":"gb4","b":55,"v":217},{"s":"gb4","b":57,"v":215},{"s":"gb4","b":58,"v":200},{"s":"gb4","b":60,"v":185},{"s":"gb4","b":62,"v":196},{"s":"gb4","b":65,"v":205},{"s":"gb4","b":70,"v":220},{"s":"gb4","b":72,"v":225},{"s":"gb4","b":74,"v":236},{"s":"gb4","b":75,"v":248},{"s":"gb4","b":76,"v":230},{"s":"gb4","b":78,"v":195},{"s":"gb4","b":79,"v":180},{"s":"gb4","b":80,"v":192},{"s":"gb4","b":81,"v":185},{"s":"gb4","b":85,"v":178},{"s":"gb4","b":88,"v":186},{"s":"gb4","b":89,"v":190},{"s":"gb4","b":90,"v":186},{"s":"gb4","b":91,"v":172},{"s":"gb4","b":92,"v":168},{"s":"gb4","b":93,"v":186},{"s":"gb4","b":94,"v":166},{"s":"gb4","b":95,"v":180},{"s":"gb4","b":96,"v":185},{"s":"gb4","b":97,"v":200},{"s":"gb4","b":98,"v":48},{"s":"gb4","b":100,"v":55},{"s":"gb4","b":102,"v":65},{"s":"gb4","b":105,"v":75},{"s":"gb4","b":110,"v":90},{"s":"gb4","b":115,"v":108},{"s":"gb4","b":118,"v":117},{"s":"gb4","b":120,"v":120},{"s":"gb4","b":124,"v":112},{"s":"gb4","b":126,"v":106},{"s":"gb4","b":127,"v":104},{"s":"gb4","b":129,"v":102},{"s":"gb4","b":130,"v":97},{"s":"gb4","b":131,"v":100},{"s":"gb4","b":132,"v":21},{"s":"gb4","b":133,"v":21},{"s":"gb4","b":135,"v":33},{"s":"gb4","b":140,"v":38},{"s":"gb4","b":145,"v":48},{"s":"gb4","b":150,"v":56},{"s":"gb4","b":153,"v":59},{"s":"gb4","b":155,"v":60},{"s":"gb4","b":157,"v":54},{"s":"gb4","b":160,"v":44},{"s":"gb4","b":165,"v":34},{"s":"gb4","b":167,"v":32},{"s":"gb4","b":170,"v":28},{"s":"gb4","b":173,"v":21},{"s":"gb4","b":176,"v":18},
{"s":"gb5","b":1,"v":5},{"s":"gb5","b":2,"v":20},{"s":"gb5","b":3,"v":15},{"s":"gb5","b":5,"v":18},{"s":"gb5","b":10,"v":25},{"s":"gb5","b":13,"v":33},{"s":"gb5","b":16,"v":45},{"s":"gb5","b":20,"v":40},{"s":"gb5","b":25,"v":32},{"s":"gb5","b":29,"v":23},{"s":"gb5","b":30,"v":22},{"s":"gb5","b":31,"v":24},{"s":"gb5","b":33,"v":50},{"s":"gb5","b":35,"v":100},{"s":"gb5","b":37,"v":145},{"s":"gb5","b":38,"v":160},{"s":"gb5","b":39,"v":152},{"s":"gb5","b":40,"v":162},{"s":"gb5","b":42,"v":168},{"s":"gb5","b":44,"v":172},{"s":"gb5","b":45,"v":166},{"s":"gb5","b":47,"v":175},{"s":"gb5","b":50,"v":178},{"s":"gb5","b":53,"v":180},{"s":"gb5","b":55,"v":182},{"s":"gb5","b":57,"v":180},{"s":"gb5","b":58,"v":170},{"s":"gb5","b":60,"v":152},{"s":"gb5","b":62,"v":162},{"s":"gb5","b":65,"v":172},{"s":"gb5","b":70,"v":185},{"s":"gb5","b":72,"v":188},{"s":"gb5","b":74,"v":198},{"s":"gb5","b":75,"v":205},{"s":"gb5","b":76,"v":190},{"s":"gb5","b":78,"v":160},{"s":"gb5","b":79,"v":150},{"s":"gb5","b":80,"v":165},{"s":"gb5","b":81,"v":158},{"s":"gb5","b":85,"v":148},{"s":"gb5","b":88,"v":155},{"s":"gb5","b":89,"v":158},{"s":"gb5","b":90,"v":155},{"s":"gb5","b":91,"v":143},{"s":"gb5","b":92,"v":140},{"s":"gb5","b":93,"v":155},{"s":"gb5","b":94,"v":140},{"s":"gb5","b":95,"v":152},{"s":"gb5","b":96,"v":160},{"s":"gb5","b":97,"v":175},{"s":"gb5","b":98,"v":42},{"s":"gb5","b":100,"v":48},{"s":"gb5","b":102,"v":55},{"s":"gb5","b":105,"v":65},{"s":"gb5","b":110,"v":78},{"s":"gb5","b":115,"v":95},{"s":"gb5","b":118,"v":101},{"s":"gb5","b":120,"v":102},{"s":"gb5","b":124,"v":95},{"s":"gb5","b":126,"v":90},{"s":"gb5","b":127,"v":88},{"s":"gb5","b":129,"v":85},{"s":"gb5","b":130,"v":80},{"s":"gb5","b":131,"v":86},{"s":"gb5","b":132,"v":20},{"s":"gb5","b":133,"v":20},{"s":"gb5","b":135,"v":28},{"s":"gb5","b":140,"v":33},{"s":"gb5","b":145,"v":40},{"s":"gb5","b":150,"v":47},{"s":"gb5","b":153,"v":50},{"s":"gb5","b":155,"v":50},{"s":"gb5","b":157,"v":46},{"s":"gb5","b":160,"v":38},{"s":"gb5","b":165,"v":32},{"s":"gb5","b":167,"v":30},{"s":"gb5","b":170,"v":26},{"s":"gb5","b":173,"v":20},{"s":"gb5","b":176,"v":15}
]},
"hconcat":[
{
"width":470,"height":370,
"title":{"text":"(a)","orient":"bottom"},
"layer":[
{"data":{"name":"d"},
"transform":[{"lookup":"s","from":{"data":{"name":"m"},"key":"s","fields":["k","p"]}},{"filter":{"field":"p","oneOf":["both","a"]}}],
"mark":{"type":"line","strokeWidth":1.7,"clip":true},
"encoding":{
"x":{"field":"b","type":"quantitative","scale":{"domain":[1,176],"nice":false,"zero":false},"axis":{"title":"Band number","values":[1,20,40,60,80,100,120,140,160,176]}},
"y":{"field":"v","type":"quantitative","scale":{"domain":[0,400],"nice":false},"axis":{"title":"Reflectance value","values":[0,50,100,150,200,250,300,350,400]}},
"color":{"field":"k","type":"nominal","scale":{"domain":["Benchmark sample from Scrub","5 samples from Scrub","5 samples from Graminoid marsh"],"range":["#ff0000","#0000ff","#11e011"]},"legend":{"title":null}},
"detail":{"field":"s"}
}},
{"data":{"values":[{"b":1,"v":0}]},
"mark":{"type":"point","opacity":0},
"encoding":{
"x":{"field":"b","type":"quantitative","axis":{"orient":"top","labels":false,"title":null,"values":[1,20,40,60,80,100,120,140,160,176]}},
"y":{"field":"v","type":"quantitative","axis":{"orient":"right","labels":false,"title":null,"values":[0,50,100,150,200,250,300,350,400]}}
}}
],
"resolve":{"axis":{"x":"independent","y":"independent"}}
},
{
"width":467,"height":370,
"title":{"text":"(b)","orient":"bottom"},
"layer":[
{"data":{"name":"d"},
"transform":[{"lookup":"s","from":{"data":{"name":"m"},"key":"s","fields":["k","p"]}},{"filter":{"field":"p","oneOf":["both","b"]}}],
"mark":{"type":"line","strokeWidth":1.7,"clip":true},
"encoding":{
"x":{"field":"b","type":"quantitative","scale":{"domain":[1,176],"nice":false,"zero":false},"axis":{"title":"Band number","values":[1,20,40,60,80,100,120,140,160,176]}},
"y":{"field":"v","type":"quantitative","scale":{"domain":[0,400],"nice":false},"axis":{"title":"Reflectance value","values":[0,50,100,150,200,250,300,350,400]}},
"color":{"field":"k","type":"nominal","scale":{"domain":["Benchmark sample from Scrub","5 samples from Scrub","5 samples from Willow swamp"],"range":["#ff0000","#0000ff","#11e011"]},"legend":{"title":null}},
"detail":{"field":"s"}
}},
{"data":{"values":[{"b":1,"v":0}]},
"mark":{"type":"point","opacity":0},
"encoding":{
"x":{"field":"b","type":"quantitative","axis":{"orient":"top","labels":false,"title":null,"values":[1,20,40,60,80,100,120,140,160,176]}},
"y":{"field":"v","type":"quantitative","axis":{"orient":"right","labels":false,"title":null,"values":[0,50,100,150,200,250,300,350,400]}}
}}
],
"resolve":{"axis":{"x":"independent","y":"independent"}}
}
],
"resolve":{"scale":{"color":"independent"},"legend":{"color":"independent"}},
"config":{
"font":"Liberation Sans",
"view":{"stroke":"#262626","strokeWidth":1},
"axis":{"grid":false,"domain":false,"ticks":true,"tickColor":"#262626","tickSize":-5,"labelFlush":false,"labelFont":"Liberation Sans","labelFontSize":16,"labelColor":"#1a1a1a","labelPadding":11,"titleFont":"Liberation Sans","titleFontSize":21,"titleFontWeight":"normal","titleColor":"#1a1a1a","titlePadding":4},
"axisX":{"titlePadding":2},
"legend":{"orient":"top-right","offset":0,"fillColor":"white","strokeColor":"#262626","padding":4,"symbolType":"M-0.5,0H3.7","symbolSize":441,"symbolStrokeWidth":2,"labelFont":"Liberation Sans","labelFontSize":14.3,"labelColor":"black","labelLimit":400,"rowPadding":0,"labelOffset":29,"cornerRadius":0},
"title":{"font":"Liberation Serif","fontSize":18,"fontWeight":"normal","color":"black","offset":11}
}
}
